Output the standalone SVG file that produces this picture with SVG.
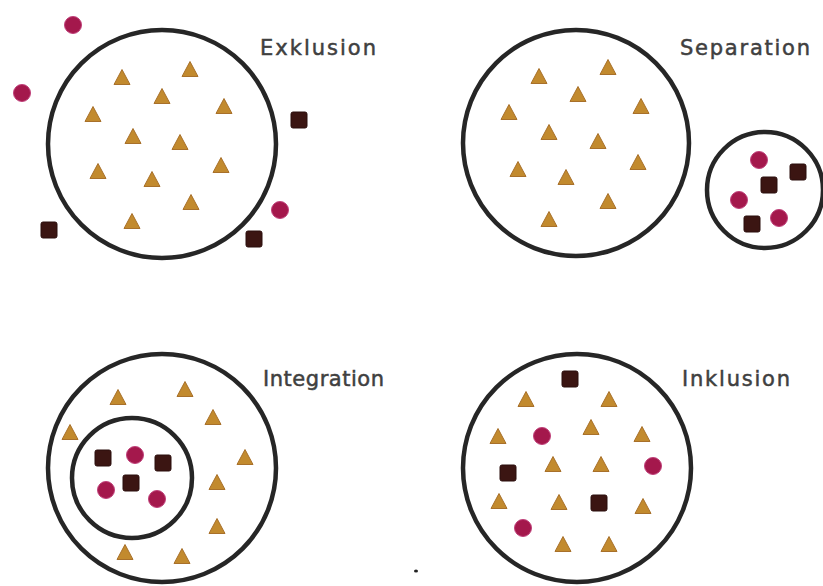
<svg xmlns="http://www.w3.org/2000/svg" xmlns:xlink="http://www.w3.org/1999/xlink" width="823" height="586" viewBox="0 0 823 586">
<defs>
<style>
.ring{fill:none;stroke:#262626;stroke-width:4.5}
.lbl{font-family:"DejaVu Sans","Liberation Sans",sans-serif;font-size:21px;fill:#404040;stroke:#404040;stroke-width:0.5}
.tri{fill:#c28a2e;stroke:#a8702a;stroke-width:1}
.dot{fill:#a4184c;stroke:#c0407a;stroke-width:1}
.sq{fill:#3b1512;stroke:#2a0e0c;stroke-width:1}
</style>
<path id="t" d="M0,-8.5 L8,6.5 L-8,6.5 Z"/>
<circle id="c" r="8.5"/>
<rect id="s" x="-8" y="-8" width="16" height="16" rx="2"/>
</defs>
<rect width="823" height="586" fill="#ffffff"/>

<g id="exklusion">
<circle class="ring" cx="162" cy="144" r="114"/>
<text class="lbl" x="260" y="55" textLength="116" lengthAdjust="spacing">Exklusion</text>
<g class="tri">
<use href="#t" x="122" y="78"/><use href="#t" x="190" y="70"/><use href="#t" x="162" y="97"/>
<use href="#t" x="93" y="115"/><use href="#t" x="224" y="107"/><use href="#t" x="133" y="137"/>
<use href="#t" x="180" y="143"/><use href="#t" x="98" y="172"/><use href="#t" x="221" y="166"/>
<use href="#t" x="152" y="180"/><use href="#t" x="191" y="203"/><use href="#t" x="132" y="222"/>
</g>
<g class="dot">
<use href="#c" x="73" y="25"/><use href="#c" x="22" y="93"/><use href="#c" x="280" y="210"/>
</g>
<g class="sq">
<use href="#s" x="299" y="120"/><use href="#s" x="49" y="230"/><use href="#s" x="254" y="239"/>
</g>
</g>

<g id="separation">
<circle class="ring" cx="576" cy="143" r="113"/>
<circle class="ring" cx="765" cy="190" r="58"/>
<text class="lbl" x="680" y="55" textLength="130" lengthAdjust="spacing">Separation</text>
<g class="tri">
<use href="#t" x="539" y="77"/><use href="#t" x="608" y="68"/><use href="#t" x="578" y="95"/>
<use href="#t" x="509" y="113"/><use href="#t" x="641" y="107"/><use href="#t" x="549" y="133"/>
<use href="#t" x="598" y="142"/><use href="#t" x="518" y="170"/><use href="#t" x="638" y="163"/>
<use href="#t" x="566" y="178"/><use href="#t" x="608" y="202"/><use href="#t" x="549" y="220"/>
</g>
<g class="dot">
<use href="#c" x="759" y="160"/><use href="#c" x="739" y="200"/><use href="#c" x="779" y="218"/>
</g>
<g class="sq">
<use href="#s" x="798" y="172"/><use href="#s" x="769" y="185"/><use href="#s" x="752" y="224"/>
</g>
</g>

<g id="integration">
<circle class="ring" cx="162" cy="468" r="114"/>
<circle class="ring" cx="132" cy="478" r="60"/>
<text class="lbl" x="263" y="386" textLength="121" lengthAdjust="spacing">Integration</text>
<g class="tri">
<use href="#t" x="118" y="398"/><use href="#t" x="185" y="390"/><use href="#t" x="70" y="433"/>
<use href="#t" x="213" y="418"/><use href="#t" x="245" y="458"/><use href="#t" x="217" y="483"/>
<use href="#t" x="217" y="527"/><use href="#t" x="125" y="553"/><use href="#t" x="182" y="557"/>
</g>
<g class="dot">
<use href="#c" x="135" y="455"/><use href="#c" x="106" y="490"/><use href="#c" x="157" y="499"/>
</g>
<g class="sq">
<use href="#s" x="103" y="458"/><use href="#s" x="163" y="463"/><use href="#s" x="131" y="483"/>
</g>
</g>

<g id="inklusion">
<circle class="ring" cx="577" cy="468" r="114"/>
<text class="lbl" x="682" y="386" textLength="108" lengthAdjust="spacing">Inklusion</text>
<g class="tri">
<use href="#t" x="526" y="400"/><use href="#t" x="609" y="400"/><use href="#t" x="498" y="437"/>
<use href="#t" x="591" y="428"/><use href="#t" x="642" y="435"/><use href="#t" x="553" y="465"/>
<use href="#t" x="601" y="465"/><use href="#t" x="499" y="502"/><use href="#t" x="559" y="503"/>
<use href="#t" x="643" y="507"/><use href="#t" x="563" y="545"/><use href="#t" x="609" y="545"/>
</g>
<g class="dot">
<use href="#c" x="542" y="436"/><use href="#c" x="653" y="466"/><use href="#c" x="523" y="528"/>
</g>
<g class="sq">
<use href="#s" x="570" y="379"/><use href="#s" x="508" y="473"/><use href="#s" x="599" y="503"/>
</g>
</g>

<g id="connectors"></g>
<ellipse cx="416" cy="571" rx="2" ry="1.5" fill="#222"/>
</svg>
